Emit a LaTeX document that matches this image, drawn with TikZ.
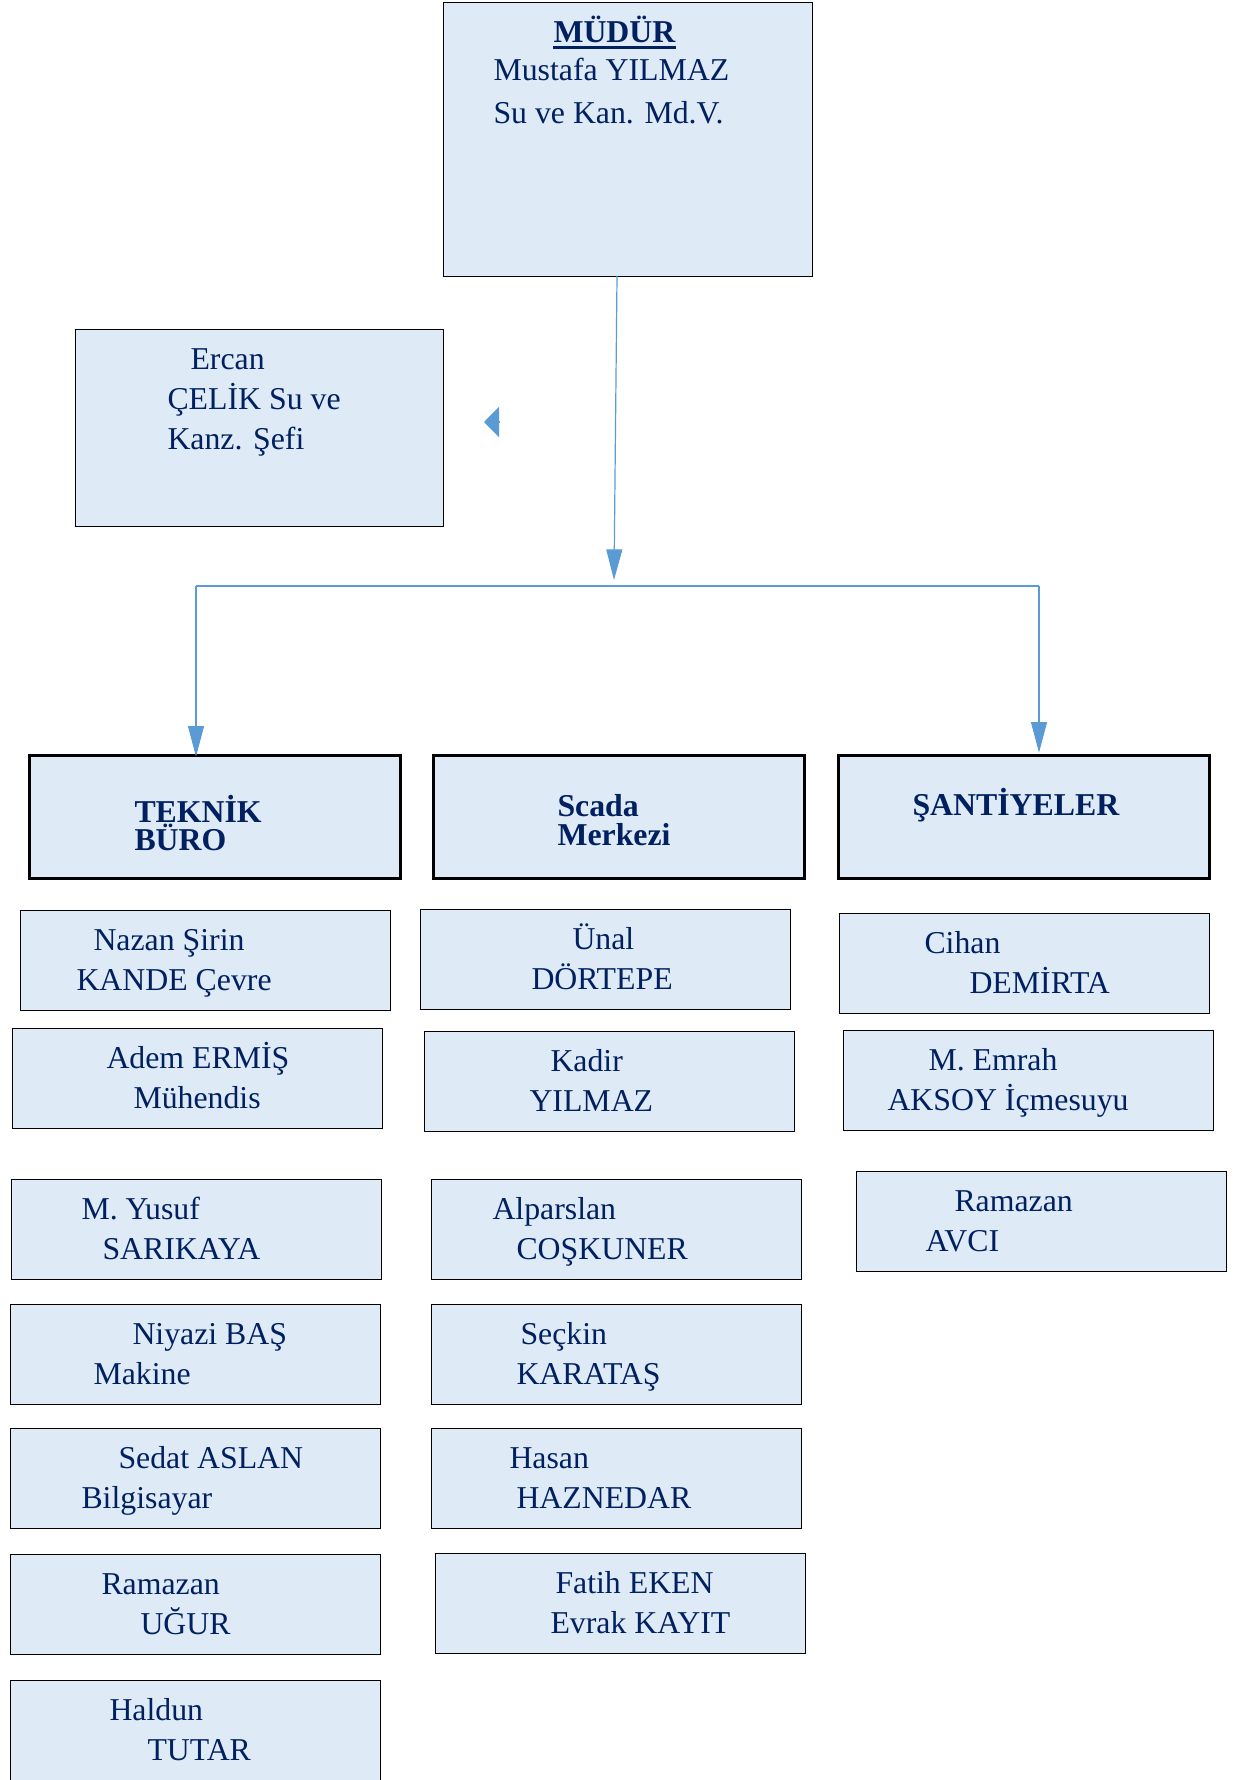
\documentclass[tikz,border=0pt]{standalone}
\usepackage{fontspec}
\setmainfont{Liberation Serif}
\usetikzlibrary{arrows.meta}
\definecolor{boxfill}{RGB}{222,234,246}
\definecolor{navytext}{RGB}{0,32,96}
\definecolor{linkblue}{RGB}{91,155,213}
\tikzset{every picture/.style={line width=0.75pt}}
\tikzset{
  card/.style={draw=black, fill=boxfill, line width=1pt, anchor=north west, inner sep=0pt, minimum width=277.5pt, minimum height=75pt},
  headcard/.style={card, line width=2pt, minimum width=278.25pt, minimum height=92.25pt},
  lbl/.style={anchor=base west, inner sep=0pt, text=navytext, font=\fontsize{23.85}{28}\selectfont},
  blbl/.style={lbl, font=\fontsize{23.85}{28}\selectfont\bfseries},
  link/.style={draw=linkblue, line width=0.9pt},
  conn/.style={link, -{Triangle[length=23pt,width=12pt]}}
}

\begin{document}
\begin{tikzpicture}[x=0.75pt,y=0.75pt,yscale=-1,xscale=1]
\useasboundingbox (0,0) rectangle (1234,1780);
%Shape: Rectangle [mudur]
\node[card, minimum width=276.75pt, minimum height=205.5pt] (mudur) at (443,2) {};
% Text Node
\node[blbl] (mudurA) at (553,43) {MÜDÜR};
\draw[navytext, line width=2.25pt] ([yshift=3.75pt]mudurA.base west) -- ([yshift=3.75pt]mudurA.base east);
\node[lbl] (mudurB) at (493,81) {Mustafa YILMAZ};
\node[lbl] (mudurC) at (493,124) {Su ve Kan. Md.V.};
%Shape: Rectangle [sef]
\node[card, minimum width=276pt, minimum height=147.75pt] (sef) at (75,329) {};
\node[lbl] (sefA) at (190,369) {Ercan};
\node[lbl] (sefB) at (167,409) {ÇELİK Su ve};
\node[lbl] (sefC) at (167,449) {Kanz. Şefi};
%Shape: Rectangle [heads]
\node[headcard] (teknik) at (28,754) {};
\node[blbl] (teknikA) at (134,822) {TEKNİK};
\node[blbl] (teknikB) at (134,850) {BÜRO};
\node[headcard] (scada) at (432,754) {};
\node[blbl] (scadaA) at (557,816) {Scada};
\node[blbl] (scadaB) at (557,845) {Merkezi};
\node[headcard] (santiye) at (837,754) {};
\node[blbl] (santiyeA) at (912,815) {ŞANTİYELER};
%Connectors
\coordinate (mOut) at (617,276);
\coordinate (busTop) at (614,580);
\coordinate (busL) at (196,586);
\coordinate (busR) at (1039,586);
\draw[conn] (mOut) -- (busTop);
\draw[link] (busL) -- (busR);
\draw[conn] (busL) -- ([yshift=2pt]busL |- teknik.north);
\draw[conn] (busR) -- ([yshift=-1pt]busR |- santiye.north);
\coordinate (sefArrow) at (499,422);
\coordinate (sefTip) at (484,422);
\draw[link, -{Triangle[length=11.25pt,width=22.5pt]}] (sefArrow) -- (sefTip);
%Teknik Buro column
\node[card] (tb1) at (20,910) {};
\node[lbl] (tb1a) at (93,950) {Nazan Şirin};
\node[lbl] (tb1b) at (76,990) {KANDE Çevre};
\node[card] (tb2) at (12,1028) {};
\node[lbl] (tb2a) at (106,1068) {Adem ERMİŞ};
\node[lbl] (tb2b) at (133,1108) {Mühendis};
\node[card] (tb3) at (11,1179) {};
\node[lbl] (tb3a) at (81,1219) {M. Yusuf};
\node[lbl] (tb3b) at (102,1259) {SARIKAYA};
\node[card] (tb4) at (10,1304) {};
\node[lbl] (tb4a) at (132,1344) {Niyazi BAŞ};
\node[lbl] (tb4b) at (93,1384) {Makine};
\node[card] (tb5) at (10,1428) {};
\node[lbl] (tb5a) at (118,1468) {Sedat ASLAN};
\node[lbl] (tb5b) at (81,1508) {Bilgisayar};
\node[card] (tb6) at (10,1554) {};
\node[lbl] (tb6a) at (101,1594) {Ramazan};
\node[lbl] (tb6b) at (140,1634) {UĞUR};
\node[card] (tb7) at (10,1680) {};
\node[lbl] (tb7a) at (109,1720) {Haldun};
\node[lbl] (tb7b) at (147,1760) {TUTAR};
%Scada column
\node[card] (sc1) at (420,909) {};
\node[lbl] (sc1a) at (572,949) {Ünal};
\node[lbl] (sc1b) at (531,989) {DÖRTEPE};
\node[card] (sc2) at (424,1031) {};
\node[lbl] (sc2a) at (550,1071) {Kadir};
\node[lbl] (sc2b) at (529,1111) {YILMAZ};
\node[card] (sc3) at (431,1179) {};
\node[lbl] (sc3a) at (492,1219) {Alparslan};
\node[lbl] (sc3b) at (516,1259) {COŞKUNER};
\node[card] (sc4) at (431,1304) {};
\node[lbl] (sc4a) at (520,1344) {Seçkin};
\node[lbl] (sc4b) at (516,1384) {KARATAŞ};
\node[card] (sc5) at (431,1428) {};
\node[lbl] (sc5a) at (509,1468) {Hasan};
\node[lbl] (sc5b) at (516,1508) {HAZNEDAR};
\node[card] (sc6) at (435,1553) {};
\node[lbl] (sc6a) at (555,1593) {Fatih EKEN};
\node[lbl] (sc6b) at (550,1633) {Evrak KAYIT};
%Santiyeler column
\node[card] (sn1) at (839,913) {};
\node[lbl] (sn1a) at (924,953) {Cihan};
\node[lbl] (sn1b) at (969,993) {DEMİRTA};
\node[card] (sn2) at (843,1030) {};
\node[lbl] (sn2a) at (928,1070) {M. Emrah};
\node[lbl] (sn2b) at (887,1110) {AKSOY İçmesuyu};
\node[card] (sn3) at (856,1171) {};
\node[lbl] (sn3a) at (954,1211) {Ramazan};
\node[lbl] (sn3b) at (925,1251) {AVCI};
\end{tikzpicture}
\end{document}
